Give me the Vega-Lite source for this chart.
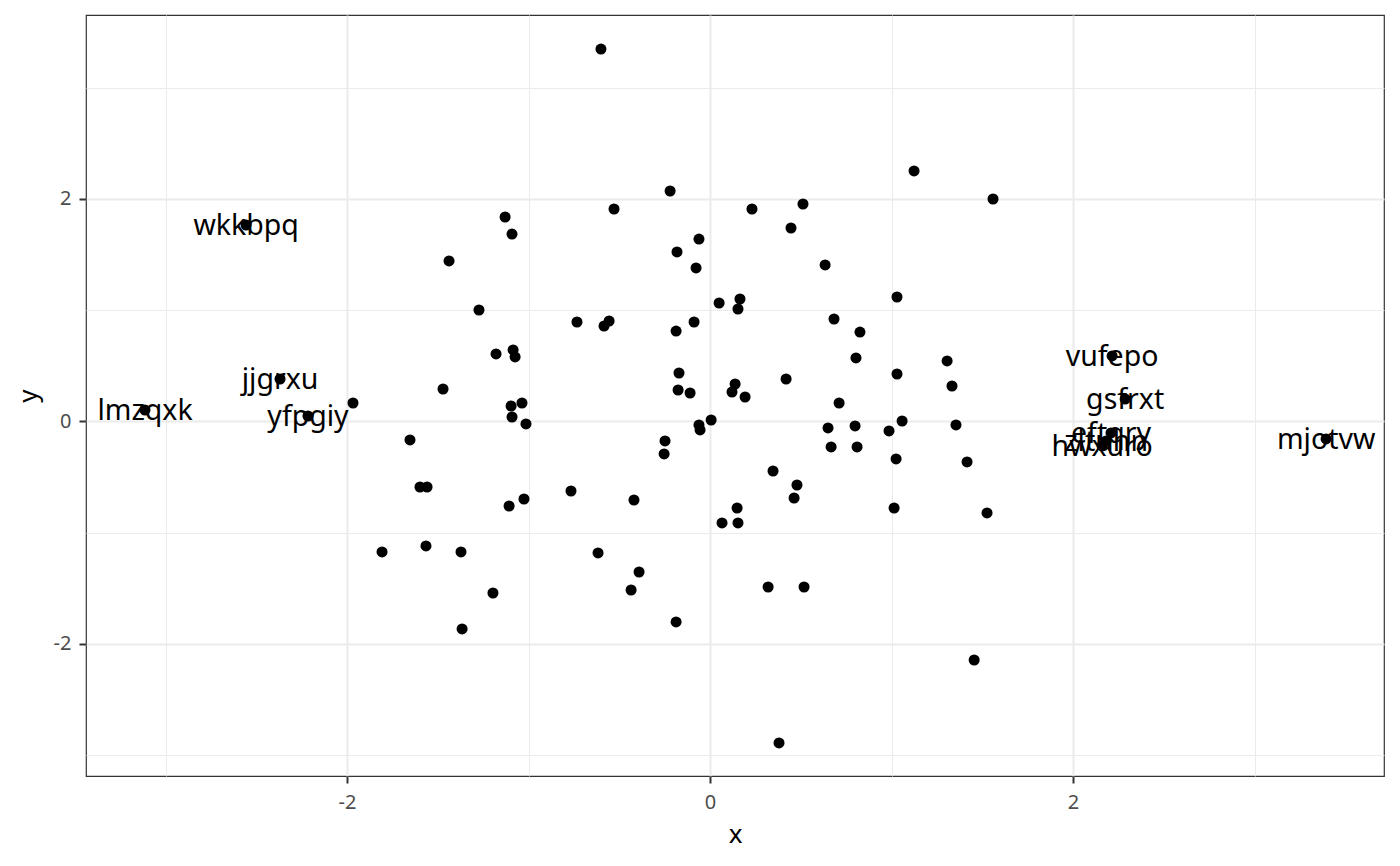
{
  "$schema": "https://vega.github.io/schema/vega-lite/v6.json",
  "autosize": "none",
  "width": 1298,
  "height": 761,
  "padding": {"left": 86, "top": 15, "right": 16, "bottom": 90},
  "background": "white",
  "data": {
    "values": [
      {"x": -0.601, "y": 3.348}, {"x": 1.124, "y": 2.252}, {"x": 1.559, "y": 2.0},
      {"x": -0.220, "y": 2.072}, {"x": -0.529, "y": 1.910}, {"x": 0.231, "y": 1.910},
      {"x": 0.512, "y": 1.955}, {"x": -1.129, "y": 1.838}, {"x": -1.091, "y": 1.685},
      {"x": 0.446, "y": 1.739}, {"x": -0.182, "y": 1.524}, {"x": -0.061, "y": 1.640},
      {"x": -1.438, "y": 1.443}, {"x": -0.077, "y": 1.380}, {"x": 0.634, "y": 1.407},
      {"x": 1.030, "y": 1.119}, {"x": 0.050, "y": 1.065}, {"x": 0.165, "y": 1.101},
      {"x": 0.154, "y": 1.011}, {"x": -1.273, "y": 1.002}, {"x": -0.733, "y": 0.894},
      {"x": -0.584, "y": 0.858}, {"x": -0.556, "y": 0.903}, {"x": -0.187, "y": 0.813},
      {"x": -0.088, "y": 0.894}, {"x": 0.683, "y": 0.921}, {"x": 0.826, "y": 0.804},
      {"x": -1.179, "y": 0.607}, {"x": -1.085, "y": 0.643}, {"x": -1.074, "y": 0.580},
      {"x": 0.804, "y": 0.571}, {"x": 1.306, "y": 0.544},
      {"x": 2.215, "y": 0.589, "name": "vufepo"},
      {"x": -0.171, "y": 0.436}, {"x": 1.030, "y": 0.427},
      {"x": -2.369, "y": 0.382, "name": "jjgrxu"},
      {"x": 0.419, "y": 0.382}, {"x": 1.333, "y": 0.319}, {"x": -1.471, "y": 0.292},
      {"x": -0.176, "y": 0.283}, {"x": -0.110, "y": 0.256}, {"x": 0.138, "y": 0.337},
      {"x": 0.121, "y": 0.265}, {"x": 0.193, "y": 0.220},
      {"x": 2.287, "y": 0.202, "name": "gsfrxt"},
      {"x": -1.967, "y": 0.166}, {"x": 0.711, "y": 0.166}, {"x": -1.096, "y": 0.139},
      {"x": -1.036, "y": 0.166},
      {"x": -3.113, "y": 0.103, "name": "lmzqxk"},
      {"x": -2.215, "y": 0.049, "name": "yfpgiy"},
      {"x": -1.091, "y": 0.040}, {"x": -1.014, "y": -0.022}, {"x": 0.006, "y": 0.013},
      {"x": -0.061, "y": -0.031}, {"x": -0.055, "y": -0.076}, {"x": 1.058, "y": 0.004},
      {"x": 1.355, "y": -0.031}, {"x": 0.650, "y": -0.058}, {"x": 0.799, "y": -0.040},
      {"x": 0.986, "y": -0.085},
      {"x": 2.209, "y": -0.103, "name": "eftqry"},
      {"x": 2.182, "y": -0.175, "name": "zltuhn"},
      {"x": 2.160, "y": -0.220, "name": "hwxuro"},
      {"x": 3.394, "y": -0.157, "name": "mjotvw"},
      {"x": -1.653, "y": -0.166}, {"x": -0.248, "y": -0.175}, {"x": -0.253, "y": -0.292},
      {"x": 0.667, "y": -0.229}, {"x": 0.810, "y": -0.229}, {"x": 1.025, "y": -0.337},
      {"x": 0.347, "y": -0.445}, {"x": 1.416, "y": -0.364}, {"x": -1.598, "y": -0.589},
      {"x": -1.559, "y": -0.589}, {"x": -0.766, "y": -0.625}, {"x": 0.479, "y": -0.571},
      {"x": 0.463, "y": -0.688}, {"x": -0.419, "y": -0.706}, {"x": -1.025, "y": -0.697},
      {"x": -1.107, "y": -0.760}, {"x": 1.014, "y": -0.778}, {"x": 1.526, "y": -0.822},
      {"x": 0.149, "y": -0.778}, {"x": 0.066, "y": -0.912}, {"x": 0.154, "y": -0.912},
      {"x": -1.807, "y": -1.173}, {"x": -1.565, "y": -1.119}, {"x": -1.372, "y": -1.173},
      {"x": -0.617, "y": -1.182}, {"x": -0.391, "y": -1.353}, {"x": 0.320, "y": -1.488},
      {"x": 0.518, "y": -1.488}, {"x": -0.435, "y": -1.515}, {"x": -1.196, "y": -1.542},
      {"x": -0.187, "y": -1.802}, {"x": -1.366, "y": -1.865}, {"x": 1.455, "y": -2.144},
      {"x": 0.380, "y": -2.890},
      {"x": -2.556, "y": 1.766, "name": "wkkbpq"}
    ]
  },
  "encoding": {
    "x": {
      "field": "x",
      "type": "quantitative",
      "scale": {"domain": [-3.438, 3.713], "nice": false, "zero": false},
      "axis": {
        "values": [-3, -2, -1, 0, 1, 2, 3],
        "labelExpr": "datum.value % 2 === 0 ? '' + datum.value : ''",
        "gridWidth": {"condition": {"test": "datum.value % 2 !== 0", "value": 1}, "value": 2},
        "tickOpacity": {"condition": {"test": "datum.value % 2 !== 0", "value": 0}, "value": 1},
        "labelPadding": 9,
        "titlePadding": 9,
        "title": "x"
      }
    },
    "y": {
      "field": "y",
      "type": "quantitative",
      "scale": {"domain": [-3.187, 3.654], "nice": false, "zero": false},
      "axis": {
        "values": [-3, -2, -1, 0, 1, 2, 3],
        "labelExpr": "datum.value % 2 === 0 ? '' + datum.value : ''",
        "gridWidth": {"condition": {"test": "datum.value % 2 !== 0", "value": 1}, "value": 2},
        "tickOpacity": {"condition": {"test": "datum.value % 2 !== 0", "value": 0}, "value": 1},
        "labelPadding": 8,
        "titlePadding": 12,
        "title": "y"
      }
    }
  },
  "layer": [
    {
      "mark": {"type": "circle", "size": 122, "color": "black", "opacity": 1}
    },
    {
      "transform": [{"filter": "datum.name != null"}],
      "mark": {
        "type": "text",
        "font": "Noto Sans",
        "fontSize": 28.5,
        "align": "center",
        "baseline": "middle",
        "dy": 1,
        "color": "black"
      },
      "encoding": {"text": {"field": "name"}}
    }
  ],
  "config": {
    "view": {"stroke": "#333333", "strokeWidth": 1.2},
    "axis": {
      "domain": false,
      "grid": true,
      "gridColor": "#EBEBEB",
      "tickColor": "#333333",
      "tickWidth": 2,
      "tickSize": 7,
      "labelFont": "Noto Sans",
      "labelFontSize": 20,
      "labelColor": "#4D4D4D",
      "titleFont": "Noto Sans",
      "titleFontSize": 26,
      "titleFontWeight": "normal",
      "titleColor": "black"
    }
  }
}
